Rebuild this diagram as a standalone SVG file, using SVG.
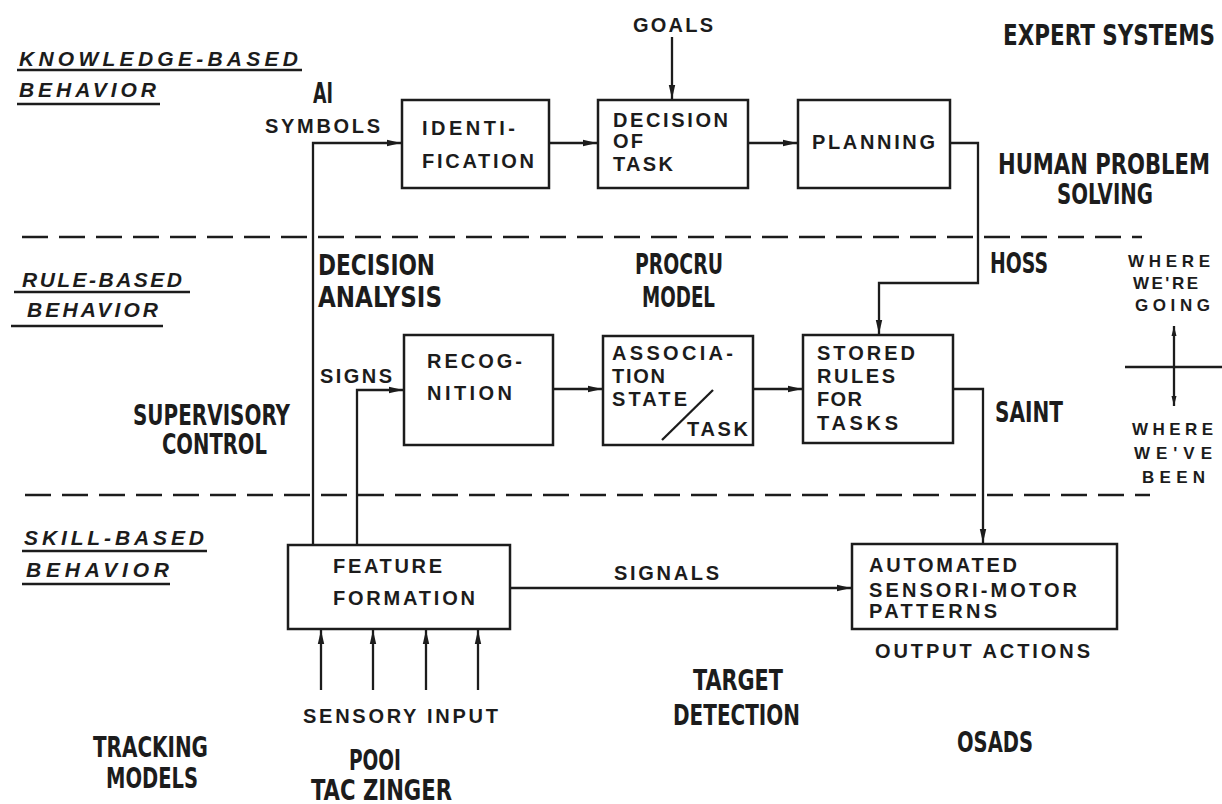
<svg xmlns="http://www.w3.org/2000/svg" width="1222" height="804" viewBox="0 0 1222 804">
<defs>
<style>
.bx{fill:none;stroke:#1c1c1c;stroke-width:2.5}
.ln{fill:none;stroke:#1c1c1c;stroke-width:2.3}
.ar{fill:none;stroke:#1c1c1c;stroke-width:2.3;marker-end:url(#ah)}
.ds{fill:none;stroke:#1c1c1c;stroke-width:2.5;stroke-dasharray:26 11}
.ul{fill:none;stroke:#1c1c1c;stroke-width:2.3}
.w{font-family:"Liberation Sans",Arial,sans-serif;font-weight:bold;font-size:20px;fill:#1c1c1c}
.c{font-family:"Liberation Sans Narrow","DejaVu Sans Condensed","Liberation Sans",sans-serif;font-weight:bold;font-size:28px;fill:#1c1c1c}
.i{font-family:"Liberation Sans",Arial,sans-serif;font-weight:bold;font-style:italic;font-size:21px;fill:#1c1c1c}
.s{font-family:"Liberation Sans",Arial,sans-serif;font-weight:bold;font-size:17px;fill:#1c1c1c}
</style>
<marker id="ah" viewBox="0 0 14 8" refX="14" refY="4" markerWidth="14" markerHeight="8" markerUnits="userSpaceOnUse" orient="auto">
<path d="M0,0.8 L14,4 L0,7.2 z" fill="#1c1c1c"/>
</marker>
<marker id="sh" viewBox="0 0 10 6" refX="10" refY="3" markerWidth="10" markerHeight="6" markerUnits="userSpaceOnUse" orient="auto">
<path d="M0,0.5 L10,3 L0,5.5 z" fill="#1c1c1c"/>
</marker>
<marker id="shs" viewBox="0 0 10 6" refX="0" refY="3" markerWidth="10" markerHeight="6" markerUnits="userSpaceOnUse" orient="auto">
<path d="M10,0.5 L0,3 L10,5.5 z" fill="#1c1c1c"/>
</marker>
</defs>
<rect width="1222" height="804" fill="#ffffff"/>

<g id="level-labels">
<text class="i" x="19" y="66" textLength="279" lengthAdjust="spacing">KNOWLEDGE-BASED</text>
<line class="ul" x1="17" y1="70" x2="302" y2="70"/>
<text class="i" x="19" y="97" textLength="137" lengthAdjust="spacing">BEHAVIOR</text>
<line class="ul" x1="17" y1="104" x2="160" y2="104"/>
<text class="i" x="22" y="287" textLength="160" lengthAdjust="spacing">RULE-BASED</text>
<line class="ul" x1="14" y1="292" x2="190" y2="292"/>
<text class="i" x="27" y="317" textLength="131" lengthAdjust="spacing">BEHAVIOR</text>
<line class="ul" x1="11" y1="326" x2="163" y2="326"/>
<text class="i" x="24" y="545" textLength="180" lengthAdjust="spacing">SKILL-BASED</text>
<line class="ul" x1="22" y1="551" x2="207" y2="551"/>
<text class="i" x="26" y="577" textLength="143" lengthAdjust="spacing">BEHAVIOR</text>
<line class="ul" x1="22" y1="584" x2="170" y2="584"/>
</g>

<g id="dividers">
<line class="ds" x1="22" y1="237" x2="1142" y2="237"/>
<line class="ds" x1="25" y1="495" x2="1150" y2="495"/>
</g>

<g id="annotations">
<text class="c" x="1003" y="45" textLength="212" lengthAdjust="spacingAndGlyphs">EXPERT SYSTEMS</text>
<text class="c" x="998" y="174" textLength="212" lengthAdjust="spacingAndGlyphs">HUMAN PROBLEM</text>
<text class="c" x="1057" y="204" textLength="96" lengthAdjust="spacingAndGlyphs">SOLVING</text>
<text class="c" x="313" y="103" textLength="20" lengthAdjust="spacingAndGlyphs">AI</text>
<text class="c" x="318" y="275" textLength="117" lengthAdjust="spacingAndGlyphs">DECISION</text>
<text class="c" x="318" y="307" textLength="124" lengthAdjust="spacingAndGlyphs">ANALYSIS</text>
<text class="c" x="635" y="274" textLength="88" lengthAdjust="spacingAndGlyphs">PROCRU</text>
<text class="c" x="642" y="307" textLength="73" lengthAdjust="spacingAndGlyphs">MODEL</text>
<text class="c" x="990" y="273" textLength="58" lengthAdjust="spacingAndGlyphs">HOSS</text>
<text class="c" x="133" y="425" textLength="157" lengthAdjust="spacingAndGlyphs">SUPERVISORY</text>
<text class="c" x="162" y="454" textLength="105" lengthAdjust="spacingAndGlyphs">CONTROL</text>
<text class="c" x="995" y="422" textLength="68" lengthAdjust="spacingAndGlyphs">SAINT</text>
<text class="c" x="693" y="690" textLength="90" lengthAdjust="spacingAndGlyphs">TARGET</text>
<text class="c" x="673" y="725" textLength="127" lengthAdjust="spacingAndGlyphs">DETECTION</text>
<text class="c" x="93" y="757" textLength="115" lengthAdjust="spacingAndGlyphs">TRACKING</text>
<text class="c" x="106" y="788" textLength="92" lengthAdjust="spacingAndGlyphs">MODELS</text>
<text class="c" x="349" y="770" textLength="52" lengthAdjust="spacingAndGlyphs">POOI</text>
<text class="c" x="311" y="800" textLength="141" lengthAdjust="spacingAndGlyphs">TAC ZINGER</text>
<text class="c" x="957" y="752" textLength="76" lengthAdjust="spacingAndGlyphs">OSADS</text>
<text class="w" x="633" y="32" textLength="80" lengthAdjust="spacing">GOALS</text>
<text class="w" x="265" y="133" textLength="115" lengthAdjust="spacing">SYMBOLS</text>
<text class="w" x="320" y="383" textLength="72" lengthAdjust="spacing">SIGNS</text>
<text class="w" x="614" y="580" textLength="105" lengthAdjust="spacing">SIGNALS</text>
<text class="w" x="875" y="658" textLength="215" lengthAdjust="spacing">OUTPUT ACTIONS</text>
<text class="w" x="303" y="723" textLength="195" lengthAdjust="spacing">SENSORY INPUT</text>
<text class="s" x="1128" y="267" textLength="82" lengthAdjust="spacing">WHERE</text>
<text class="s" x="1133" y="289" textLength="65" lengthAdjust="spacing">WE'RE</text>
<text class="s" x="1135" y="311" textLength="75" lengthAdjust="spacing">GOING</text>
<text class="s" x="1132" y="435" textLength="81" lengthAdjust="spacing">WHERE</text>
<text class="s" x="1134" y="459" textLength="78" lengthAdjust="spacing">WE'VE</text>
<text class="s" x="1142" y="483" textLength="63" lengthAdjust="spacing">BEEN</text>
<line class="ln" x1="1174" y1="326" x2="1174" y2="406" style="marker-end:url(#sh);marker-start:url(#shs)"/>
<line class="ln" x1="1125" y1="367" x2="1222" y2="367"/>
</g>

<g id="identification">
<rect class="bx" x="402" y="100" width="147" height="88"/>
<text class="w" x="422" y="135" textLength="93" lengthAdjust="spacing">IDENTI-</text>
<text class="w" x="422" y="168" textLength="112" lengthAdjust="spacing">FICATION</text>
</g>

<g id="decision-of-task">
<rect class="bx" x="598" y="100" width="150" height="88"/>
<text class="w" x="613" y="127" textLength="115" lengthAdjust="spacing">DECISION</text>
<text class="w" x="613" y="148" textLength="30" lengthAdjust="spacing">OF</text>
<text class="w" x="613" y="171" textLength="60" lengthAdjust="spacing">TASK</text>
</g>

<g id="planning">
<rect class="bx" x="798" y="100" width="152" height="88"/>
<text class="w" x="812" y="149" textLength="123" lengthAdjust="spacing">PLANNING</text>
</g>

<g id="recognition">
<rect class="bx" x="404" y="335" width="149" height="110"/>
<text class="w" x="427" y="368" textLength="95" lengthAdjust="spacing">RECOG-</text>
<text class="w" x="427" y="400" textLength="85" lengthAdjust="spacing">NITION</text>
</g>

<g id="association">
<rect class="bx" x="603" y="336" width="150" height="109"/>
<text class="w" x="612" y="360" textLength="121" lengthAdjust="spacing">ASSOCIA-</text>
<text class="w" x="612" y="383" textLength="53" lengthAdjust="spacing">TION</text>
<text class="w" x="612" y="406" textLength="75" lengthAdjust="spacing">STATE</text>
<text class="w" x="687" y="436" textLength="61" lengthAdjust="spacing">TASK</text>
<line class="ln" x1="662" y1="440" x2="713" y2="390"/>
</g>

<g id="stored-rules">
<rect class="bx" x="803" y="335" width="150" height="108"/>
<text class="w" x="817" y="360" textLength="98" lengthAdjust="spacing">STORED</text>
<text class="w" x="817" y="383" textLength="78" lengthAdjust="spacing">RULES</text>
<text class="w" x="817" y="406" textLength="45" lengthAdjust="spacing">FOR</text>
<text class="w" x="817" y="430" textLength="81" lengthAdjust="spacing">TASKS</text>
</g>

<g id="feature-formation">
<rect class="bx" x="288" y="545" width="222" height="84"/>
<text class="w" x="333" y="573" textLength="109" lengthAdjust="spacing">FEATURE</text>
<text class="w" x="333" y="605" textLength="142" lengthAdjust="spacing">FORMATION</text>
</g>

<g id="automated-patterns">
<rect class="bx" x="852" y="544" width="265" height="85"/>
<text class="w" x="869" y="572" textLength="148" lengthAdjust="spacing">AUTOMATED</text>
<text class="w" x="869" y="597" textLength="208" lengthAdjust="spacing">SENSORI-MOTOR</text>
<text class="w" x="869" y="618" textLength="128" lengthAdjust="spacing">PATTERNS</text>
</g>

<g id="connectors">
<path class="ar" d="M313,545 V143 H401"/>
<path class="ar" d="M357,545 V390 H403"/>
<path class="ar" d="M672,37 V99"/>
<path class="ar" d="M549,143 H597"/>
<path class="ar" d="M748,143 H797"/>
<path class="ar" d="M950,143 H978 V283 H879 V334"/>
<path class="ar" d="M553,389 H602"/>
<path class="ar" d="M753,389 H802"/>
<path class="ar" d="M953,389 H983 V543"/>
<path class="ar" d="M510,588 H851"/>
<path class="ar" d="M321,690 V630"/>
<path class="ar" d="M373,690 V630"/>
<path class="ar" d="M426,690 V630"/>
<path class="ar" d="M478,690 V630"/>
</g>
</svg>
